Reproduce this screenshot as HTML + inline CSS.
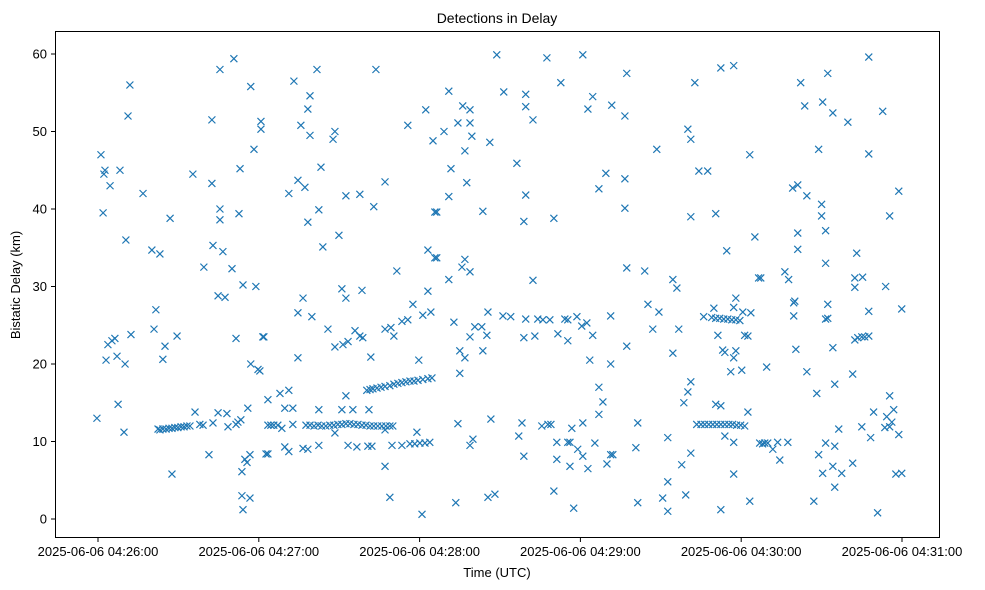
<!DOCTYPE html>
<html><head><meta charset="utf-8"><style>
html,body{margin:0;padding:0;background:#fff;}
svg{display:block;font-family:"Liberation Sans","DejaVu Sans",sans-serif;}
</style></head><body>
<svg id="chart" width="985" height="590" viewBox="0 0 985 590">
<rect x="0" y="0" width="985" height="590" fill="#fff"/>
<text x="497" y="23" text-anchor="middle" font-size="14" fill="#000">Detections in Delay</text>
<text x="497" y="577" text-anchor="middle" font-size="13" fill="#000">Time (UTC)</text>
<text x="20" y="285" text-anchor="middle" font-size="13" fill="#000" transform="rotate(-90 20 285)">Bistatic Delay (km)</text>
<g id="marks"></g>
<g id="axes"></g>
<rect x="55.5" y="31.5" width="884" height="506" fill="none" stroke="#000" stroke-width="1"/>
</svg>
<script>
const xTickSeconds = [0, 60, 120, 180, 240, 300];
const xTickLabels = ["2025-06-06 04:26:00","2025-06-06 04:27:00","2025-06-06 04:28:00","2025-06-06 04:29:00","2025-06-06 04:30:00","2025-06-06 04:31:00"];
const yTicks = [0, 10, 20, 30, 40, 50, 60];
// [seconds after 04:26:00, bistatic delay km]
const detections = [
[-0.4,13],[1.1,47],[1.9,39.5],[2.2,44.5],[2.6,45],[3,20.5],[3.7,22.5],[4.5,43],[5.2,23],[6.3,23.3],[7.1,21],[7.5,14.8],[8.2,45],[9.7,11.2],[10.1,20],[10.4,36],[11.2,52],[11.9,56],[12.3,23.8],[16.8,42],[20.1,34.7],[20.9,24.5],[21.6,27],[23.1,34.2],[24.2,20.6],[25,22.3],[26.9,38.8],[27.6,5.8],[29.5,23.6],
[22.4,11.6],[23.1,11.5],[24.2,11.6],[25.4,11.6],[26.5,11.7],[27.6,11.7],[28.7,11.8],[29.8,11.8],[31,11.9],[32.1,11.9],[33.2,12],[34.3,12],
[36.2,13.8],[35.4,44.5],[38,12.2],[39.2,12.1],[39.5,32.5],[41.4,8.3],[42.5,51.5],[42.5,43.3],[42.9,35.3],[42.9,12.4],[44.8,13.7],[44.8,28.8],[45.5,58],[45.5,40],[45.5,38.6],[46.6,34.5],[47.4,28.6],[48.1,13.6],[48.5,11.9],[50,32.3],[50.7,59.4],[51.5,23.3],[51.5,12.2],[52.2,12.5],[52.6,39.4],[53,45.2],[53.3,12.8],[53.7,6.1],[53.7,3],[54.1,1.2],[54.1,30.2],[54.8,7.7],[55.6,7.3],[55.9,14.3],[56.7,8.3],[56.7,2.7],[57,55.8],[57,20],[58.2,47.7],[58.9,30],[59.7,19.3],[60.8,50.3],[60.8,51.3],[61.5,23.5],[62.7,8.4],[63.4,15.4],
[73.1,56.5],[81.7,58],[79.1,54.6],[78.3,52.9],[75.7,50.8],[79.1,49.5],[88.4,50],[87.7,49],[103.7,58],[122.3,52.8],[115.6,50.8],[125,48.8],[83.2,45.4],[74.6,43.7],[77.2,42.8],[71.2,42],[92.5,41.7],[97.7,41.9],[107.1,43.5],[102.9,40.3],[82.4,39.9],[125.7,39.6],[78.3,38.3],[89.9,36.6],[83.9,35.1],[123.1,34.7],[125.7,33.7],[111.5,32],[91,29.7],[92.5,28.5],[98.5,29.5],[76.5,28.5],[123.1,29.4],[117.5,27.7],[121.2,26.3],[124.2,26.7],[74.6,26.6],[79.8,26.1],[85.8,24.5],[88.4,22.2],[91.4,22.5],[93.3,22.9],[95.9,24.3],[97.7,23.6],[98.8,23.4],[107.1,24.5],[109.3,24.7],[110.4,23.6],[113.4,25.5],[115.6,25.7],[61.9,23.5],[74.6,20.8],[101.8,20.9],[119.7,20.5],[60.4,19.1],
[100.3,16.6],[101.5,16.7],[102.6,16.8],[104.1,16.9],[105.6,17],[107.1,17.1],[108.9,17.2],[110.4,17.4],[111.9,17.5],[113.4,17.6],[114.9,17.7],[116.4,17.8],[117.9,17.8],[119.4,17.9],[121.2,18],[123.1,18.1],[124.6,18.2],
[67.9,16.2],[71.2,16.6],[69.7,14.3],[72.7,14.3],[82.4,14.1],[91,14.1],[95.1,14.1],[101.1,14.1],[92.5,15.9],
[63.4,12.1],[64.5,12.1],[65.6,12.1],[67.1,12.1],[77.6,12.1],[79.1,12.1],[80.6,12],[82.1,12.1],[83.5,12],[85,12],[86.5,12.1],[88,12.1],[89.5,12.2],[91,12.2],[92.5,12.3],[94,12.3],[95.5,12.2],[97,12.2],[98.5,12.1],[100,12.1],[101.5,12],[102.9,12],[104.4,12],[105.9,12],[107.4,12],[108.9,12],[110,12],
[68.6,11.7],[72.7,12.2],[88.4,11.1],[119,11.2],[107.1,11.5],
[63.4,8.4],[69.7,9.3],[71.2,8.7],[76.5,9.1],[78.3,9],[82.4,9.5],[93.3,9.5],[96.6,9.3],[100.7,9.4],[102.2,9.4],[109.7,9.5],[113.4,9.5],[116.4,9.7],[118.2,9.7],[120.1,9.8],[122,9.8],[123.8,9.9],
[107.1,6.8],[108.9,2.8],[120.9,0.6],
[148.8,59.9],[167.5,59.5],[180.9,59.9],[130.9,55.2],[151.4,55.1],[159.6,54.8],[159.6,53.2],[136.1,53.3],[138.8,52.8],[172.7,56.3],[184.6,54.5],[182.8,52.9],[191.7,53.4],[134.3,51.1],[138.8,51.1],[129.1,50],[139.5,49.4],[162.3,51.5],[146.2,48.6],[136.9,47.5],[156.3,45.9],[131.7,45.2],[137.6,43.4],[130.9,41.6],[159.6,41.8],[189.5,44.6],[186.9,42.6],[126.4,39.6],[143.6,39.7],[158.9,38.4],[170.1,38.8],[126.4,33.7],[136.9,33.5],[135.8,32.5],[138.8,31.9],[130.9,30.9],[162.3,30.8],[145.5,26.7],[132.8,25.4],[151.1,26.2],[154,26.1],[159.6,25.8],[164.1,25.8],[166,25.7],[168.6,25.7],[174.2,25.8],[175.3,25.7],[178.7,26.1],[180.5,24.9],[182.4,25.3],[191.3,26.2],[140.6,24.8],[143.2,24.8],[145.1,23.7],[138.8,23.5],[158.9,23.4],[163,23.6],[171.6,23.9],[175.3,23],[184.6,23.7],[135,21.7],[136.9,20.8],[143.6,21.7],[183.5,20.5],[191.3,20],[135,18.8],[186.9,17],[188.4,15.1],[186.9,13.5],[134.3,12.3],[146.6,12.9],[158.2,12.4],[165.6,12],[167.9,12.2],[169,12.2],[176.8,11.7],[180.9,12.4],[157,10.7],[139.9,10.3],[138.8,9.5],[171.2,9.9],[175.3,9.9],[176.1,9.9],[179,9],[185.4,9.8],[180.9,8.1],[158.9,8.1],[171.2,7.7],[176.1,6.8],[182.8,6.5],[189.9,7.1],[191.3,8.3],[170.1,3.6],[133.5,2.1],[145.5,2.8],[148.1,3.2],[177.5,1.4],
[197.3,57.5],[222.7,56.3],[232.4,58.2],[237.2,58.5],[196.6,52],[220.1,50.3],[221.2,49],[208.5,47.7],[243.2,47],[224.2,44.9],[227.5,44.9],[196.6,43.9],[196.6,40.1],[221.2,39],[230.5,39.4],[245.1,36.4],[234.6,34.6],[197.3,32.4],[204,32],[214.5,30.9],[216,29.8],[246.5,31.1],[247.3,31.1],[238,28.5],[237.2,27.3],[229.8,27.2],[240.6,26.7],[243.6,26.6],[205.2,27.7],[209.3,26.7],[226,26.1],
[229,26],[230.5,25.9],[232,25.9],[233.5,25.8],[235,25.8],[236.5,25.7],[238,25.7],[239.5,25.6],
[231.3,23.7],[241.3,23.7],[242.5,23.6],[207,24.5],[216.7,24.5],[197.3,22.3],[214.5,21.4],[233.1,21.8],[233.9,21.5],[238,21.7],[237.2,20.8],[236.1,19],[240.2,19.2],[249.5,19.6],[221.2,17.7],[220.1,16.4],[218.6,15],[230.5,14.8],[232.4,14.6],[242.5,13.8],[201.4,12.4],
[223.4,12.2],[225,12.2],[226.4,12.2],[227.9,12.2],[229.4,12.2],[230.9,12.2],[232.4,12.2],[233.9,12.2],[235.4,12.2],[236.8,12.2],[238.3,12.1],[239.8,12.1],[241.3,12],
[233.9,10.7],[237.2,9.9],[212.6,10.5],[200.7,9.2],[221.2,8.5],[217.8,7],[248.8,9.8],[192.1,8.3],[212.6,4.8],[237.2,5.8],[201.4,2.1],[210.7,2.7],[212.6,1],[219.3,3.1],[232.4,1.2],[243.2,2.3],
[287.6,59.6],[272.3,57.5],[262.2,56.3],[263.7,53.3],[270.4,53.8],[274.2,52.4],[279.8,51.2],[292.8,52.6],[268.9,47.7],[287.6,47.1],[259.2,42.7],[261.1,43.1],[264.5,41.7],[270,40.6],[270,39.1],[298.8,42.3],[295.4,39.1],[261.1,36.9],[271.5,37.2],[261.1,34.8],[283.1,34.3],[271.5,33],[256.3,31.9],[257.7,30.9],[282.4,31.1],[285.3,31.2],[282.4,29.9],[293.9,30],[260,28.1],[259.6,27.9],[259.6,26.2],[272.3,27.7],[287.6,26.8],[299.9,27.1],[271.5,25.8],[272.3,25.9],[282.4,23.1],[283.5,23.4],[285,23.5],[286.1,23.5],[287.6,23.6],[260.4,21.9],[274.2,22.1],[264.5,19],[281.6,18.7],[274.9,17.4],[268.2,16.2],[295.4,15.9],[289.4,13.8],[296.9,14.1],[294.3,13.2],[296.2,12.5],[293.6,11.8],[295.4,11.9],[285,11.9],[276.4,11.6],[298.8,10.9],[288.3,10.5],[271.5,9.8],[274.9,9.4],[249.9,9.8],[251.8,9],[254.4,7.6],[253.6,9.9],[257.4,9.9],[246.9,9.8],[248,9.7],[268.9,8.3],[281.6,7.2],[274.2,6.8],[270.4,5.9],[277.5,5.9],[297.7,5.8],[299.9,5.9],[274.9,4.1],[267.1,2.3],[290.9,0.8]
];
const NS = "http://www.w3.org/2000/svg";
function xScale(s){ return 98 + s * (804 / 300); }
function yScale(v){ return 519 - v * (465 / 60); }
const axes = document.getElementById('axes');
const marks = document.getElementById('marks');
xTickSeconds.forEach(function(s, i){
  const x = xScale(s);
  const t = document.createElementNS(NS, 'line');
  t.setAttribute('x1', x); t.setAttribute('x2', x); t.setAttribute('y1', 538); t.setAttribute('y2', 542);
  t.setAttribute('stroke', '#000'); t.setAttribute('stroke-width', '1');
  
  
  axes.appendChild(t);
  const l = document.createElementNS(NS, 'text');
  l.setAttribute('x', x); l.setAttribute('y', 556); l.setAttribute('text-anchor', 'middle');
  l.setAttribute('font-size', '13');
  l.textContent = xTickLabels[i];
  
  
  axes.appendChild(l);
});
yTicks.forEach(function(v){
  const y = yScale(v);
  const t = document.createElementNS(NS, 'line');
  t.setAttribute('x1', 51); t.setAttribute('x2', 55); t.setAttribute('y1', y); t.setAttribute('y2', y);
  t.setAttribute('stroke', '#000'); t.setAttribute('stroke-width', '1');
  
  
  axes.appendChild(t);
  const l = document.createElementNS(NS, 'text');
  l.setAttribute('x', 47); l.setAttribute('y', y + 4.5); l.setAttribute('text-anchor', 'end');
  l.setAttribute('font-size', '13');
  l.textContent = String(v);
  
  
  axes.appendChild(l);
});
detections.forEach(function(d){
  const x = xScale(d[0]), y = yScale(d[1]), r = 3.5;
  const p = document.createElementNS(NS, 'path');
  p.setAttribute('d', 'M' + (x - r) + ' ' + (y - r) + 'L' + (x + r) + ' ' + (y + r) + 'M' + (x - r) + ' ' + (y + r) + 'L' + (x + r) + ' ' + (y - r));
  p.setAttribute('stroke', '#1f77b4'); p.setAttribute('stroke-width', '1.2'); p.setAttribute('fill', 'none');
  
  
  marks.appendChild(p);
});
</script>
</body></html>
